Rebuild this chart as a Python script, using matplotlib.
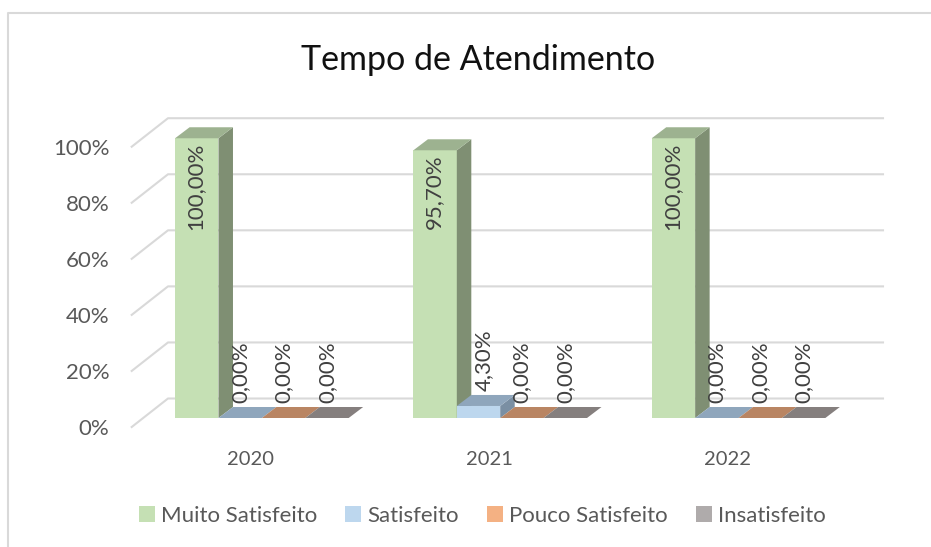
import matplotlib
matplotlib.use("Agg")
import matplotlib.pyplot as plt
from matplotlib.lines import Line2D
from matplotlib.patches import Patch, Polygon

years = ['2020', '2021', '2022']
series = ['Muito Satisfeito', 'Satisfeito', 'Pouco Satisfeito', 'Insatisfeito']
muito = [100.0, 95.7, 100.0]
satisfeito = [0.0, 4.3, 0.0]
pouco = [0.0, 0.0, 0.0]
insatisfeito = [0.0, 0.0, 0.0]
y_ticks = [0, 20, 40, 60, 80, 100]

front_colors = ['#C5E0B4', '#BDD7EE', '#F4B183', '#AFABAB']
top_colors = ['#9DB290', '#8FA6BC', '#B98563', '#857F7E']
side_colors = ['#7F8F73', '#7A8FA3', '#A5744F', '#6F6B6B']
text_color = '#595959'
label_color = '#404040'
grid_color = '#D9D9D9'

W, H = 931, 547
plt.rcParams['font.family'] = 'Lato'
fig = plt.figure(figsize=(W / 100, H / 100), dpi=100)
fig.patch.set_facecolor('white')

# front plane of the fake 3D box, placed in pixels
ax = fig.add_axes([131.7 / W, 1 - 427 / H, 715 / W, 280.3 / H])
ax.set_xlim(-0.5, 2.5)
ax.set_ylim(0, 100)
ax.patch.set_visible(False)
for s in ax.spines.values():
    s.set_visible(False)

px_x = 3 / 715       # one pixel in x units
px_y = 100 / 280.3   # one pixel in y units

floor_dx = 36.3 * px_x
floor_dy = 28.5 * px_y
bar_dx = 14.5 * px_x
bar_dy = 11 * px_y
base_y = 9 * px_y
bar_w = 43.4 * px_x
group_off = -0.318

# gridlines
for t in y_ticks:
    ax.plot([-0.5, -0.5 + floor_dx, 2.5 + floor_dx], [t, t + floor_dy, t + floor_dy],
            color=grid_color, lw=1.5, clip_on=False, zorder=1)

# bars, left to right so the next bar sits over the last side face
all_values = [muito, satisfeito, pouco, insatisfeito]
for g in range(len(years)):
    for i, vals in enumerate(all_values):
        v = vals[g]
        x0 = g + group_off + i * bar_w
        x1 = x0 + bar_w
        y0 = base_y
        y1 = base_y + v * 0.998
        z = 2 + i
        ax.add_patch(Polygon([(x0, y0), (x1, y0), (x1, y1), (x0, y1)],
                             fc=front_colors[i], ec='none', clip_on=False, zorder=z))
        ax.add_patch(Polygon([(x1, y0), (x1 + bar_dx, y0 + bar_dy), (x1 + bar_dx, y1 + bar_dy), (x1, y1)],
                             fc=side_colors[i], ec='none', clip_on=False, zorder=z))
        ax.add_patch(Polygon([(x0, y1), (x1, y1), (x1 + bar_dx, y1 + bar_dy), (x0 + bar_dx, y1 + bar_dy)],
                             fc=top_colors[i], ec='none', clip_on=False, zorder=z))
        label = f'{v:.2f}%'.replace('.', ',')
        lx = (x0 + x1) / 2
        if v > 50:
            ax.text(lx - 1 * px_x, y1 - 4 * px_y, label, rotation=90, ha='center', va='top',
                    fontsize=16, color=label_color, zorder=10, clip_on=False)
        else:
            if v > 0:
                lx += 5 * px_x
            ax.text(lx, y1 + 15 * px_y, label, rotation=90, ha='center', va='bottom',
                    fontsize=16, color=label_color, zorder=10, clip_on=False)

ax.set_yticks(y_ticks)
ax.set_yticklabels([f'{t}%' for t in y_ticks], fontsize=16, color=text_color)
ax.set_xticks(range(len(years)))
ax.set_xticklabels(years, fontsize=14.5, color=text_color)
ax.tick_params(axis='both', length=0)
ax.tick_params(axis='y', pad=16)
ax.tick_params(axis='x', pad=17.5)

fig.text(478 / W, 1 - 60.5 / H, 'Tempo de Atendimento', ha='center', va='center',
         fontsize=24.5, color='#111111')

handles = [Patch(fc=c, ec='none') for c in front_colors]
fig.legend(handles, series, loc='center', bbox_to_anchor=(482.5 / W, 1 - 516 / H), ncol=4,
           frameon=False, fontsize=16, labelcolor=text_color, handlelength=0.7, handleheight=0.7,
           handletextpad=0.3, columnspacing=1.26)

# chart area border, open at the bottom and right
fig.add_artist(Line2D([8 / W, 8 / W, 1], [0, 1 - 13 / H, 1 - 13 / H], color=grid_color, lw=1.5))

fig.savefig('out.png', dpi=100)
